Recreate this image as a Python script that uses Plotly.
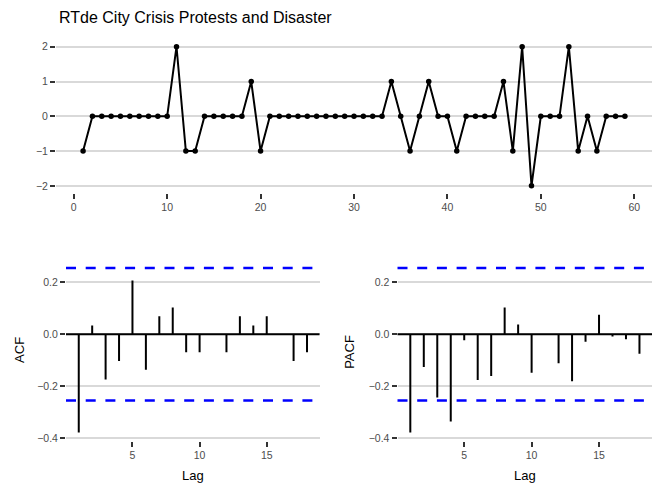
import plotly.graph_objects as go

# ---- data ----
time_idx = [1, 2, 3, 4, 5, 6, 7, 8, 9, 10, 11, 12, 13, 14, 15, 16, 17, 18, 19, 20,
            21, 22, 23, 24, 25, 26, 27, 28, 29, 30, 31, 32, 33, 34, 35, 36, 37, 38, 39, 40,
            41, 42, 43, 44, 45, 46, 47, 48, 49, 50, 51, 52, 53, 54, 55, 56, 57, 58, 59]
series = [-1, 0, 0, 0, 0, 0, 0, 0, 0, 0, 2, -1, -1, 0, 0, 0, 0, 0, 1, -1,
          0, 0, 0, 0, 0, 0, 0, 0, 0, 0, 0, 0, 0, 1, 0, -1, 0, 1, 0, 0,
          -1, 0, 0, 0, 0, 1, -1, 2, -2, 0, 0, 0, 2, -1, 0, -1, 0, 0, 0]
lags = [1, 2, 3, 4, 5, 6, 7, 8, 9, 10, 11, 12, 13, 14, 15, 16, 17, 18]
acf_vals = [-0.378, 0.034, -0.174, -0.103, 0.207, -0.137, 0.069, 0.103, -0.069,
            -0.069, 0.0, -0.069, 0.069, 0.034, 0.069, 0.0, -0.103, -0.069]
pacf_vals = [-0.378, -0.126, -0.244, -0.336, -0.023, -0.176, -0.161, 0.103, 0.038,
             -0.148, 0.0, -0.112, -0.181, -0.029, 0.075, -0.009, -0.019, -0.075]
ci = 0.255
title_text = "RTde City Crisis Protests and Disaster"

W, H = 664, 498
FONT = "Liberation Sans, Arial, Helvetica, sans-serif"
TICKCOL = "#4D4D4D"
GRID = "#D9D9D9"


def px_x(p):
    return p / W


def px_y(p):
    return 1 - p / H


def stems(xs, ys):
    sx, sy = [], []
    for a, b in zip(xs, ys):
        sx += [a, a, None]
        sy += [0, b, None]
    return sx, sy


fig = go.Figure()

# top: time series
fig.add_trace(go.Scatter(x=time_idx, y=series, mode="lines+markers",
                         line=dict(color="black", width=2),
                         marker=dict(color="black", size=5.5),
                         xaxis="x", yaxis="y", showlegend=False))

# zero lines and CI lines for bottom panels
for xa, ya in (("x2", "y2"), ("x3", "y3")):
    fig.add_shape(type="line", xref=f"{xa} domain", yref=ya, x0=0, x1=1, y0=0, y1=0,
                  line=dict(color="black", width=2), layer="above")
    for v in (ci, -ci):
        fig.add_shape(type="line", xref=f"{xa} domain", yref=ya, x0=0, x1=1, y0=v, y1=v,
                      line=dict(color="#0000FF", width=2.6, dash="10px,9.7px"), layer="above")

ax, ay = stems(lags, acf_vals)
fig.add_trace(go.Scatter(x=ax, y=ay, mode="lines", line=dict(color="black", width=2),
                         xaxis="x2", yaxis="y2", showlegend=False))
px_, py_ = stems(lags, pacf_vals)
fig.add_trace(go.Scatter(x=px_, y=py_, mode="lines", line=dict(color="black", width=2),
                         xaxis="x3", yaxis="y3", showlegend=False))

common_axis = dict(showline=False, zeroline=False, ticks="outside", ticklen=5,
                   tickwidth=1.6, tickcolor="#333333",
                   tickfont=dict(family=FONT, size=10.5, color=TICKCOL))

bottom_range = [-0.41, 0.287]
lag_range = [0.05, 18.93]

fig.update_layout(
    width=W, height=H,
    margin=dict(l=0, r=0, t=0, b=0),
    paper_bgcolor="white", plot_bgcolor="white",
    font=dict(family=FONT),
    xaxis=dict(domain=[px_x(56), px_x(652)], range=[-1.9, 61.9], anchor="y",
               tickvals=[0, 10, 20, 30, 40, 50, 60], showgrid=False, **common_axis),
    yaxis=dict(domain=[px_y(194), px_y(40)], range=[-2.2, 2.2], anchor="x",
               tickvals=[-2, -1, 0, 1, 2], showgrid=True, gridcolor=GRID, gridwidth=1.7,
               **common_axis),
    xaxis2=dict(domain=[px_x(66), px_x(319.5)], range=lag_range, anchor="y2",
                tickvals=[5, 10, 15], showgrid=False, **common_axis),
    yaxis2=dict(domain=[px_y(443.4), px_y(261.3)], range=bottom_range, anchor="x2",
                tickvals=[-0.4, -0.2, 0.0, 0.2], tickformat=".1f",
                showgrid=True, gridcolor=GRID, gridwidth=1.7, **common_axis),
    xaxis3=dict(domain=[px_x(397.5), px_x(652)], range=lag_range, anchor="y3",
                tickvals=[5, 10, 15], showgrid=False, **common_axis),
    yaxis3=dict(domain=[px_y(443.4), px_y(261.3)], range=bottom_range, anchor="x3",
                tickvals=[-0.4, -0.2, 0.0, 0.2], tickformat=".1f",
                showgrid=True, gridcolor=GRID, gridwidth=1.7, **common_axis),
)

ann_font = dict(family=FONT, size=13, color="black")


def label(text, x, y, angle=0, font=ann_font, xanchor="center"):
    fig.add_annotation(text=text, x=px_x(x), y=px_y(y), xref="paper", yref="paper",
                       xanchor=xanchor, yanchor="middle", textangle=angle,
                       showarrow=False, font=font)


label(title_text, 57, 18, font=dict(family=FONT, size=16, color="black"), xanchor="left")
label("ACF", 20, 352, angle=-90)
label("PACF", 350, 354, angle=-90)
label("Lag", 192.5, 478)
label("Lag", 525, 478)

fig.write_html("out.html",
               config={"displayModeBar": False},
               post_script="document.body.style.margin='0';document.body.style.overflow='hidden';")
